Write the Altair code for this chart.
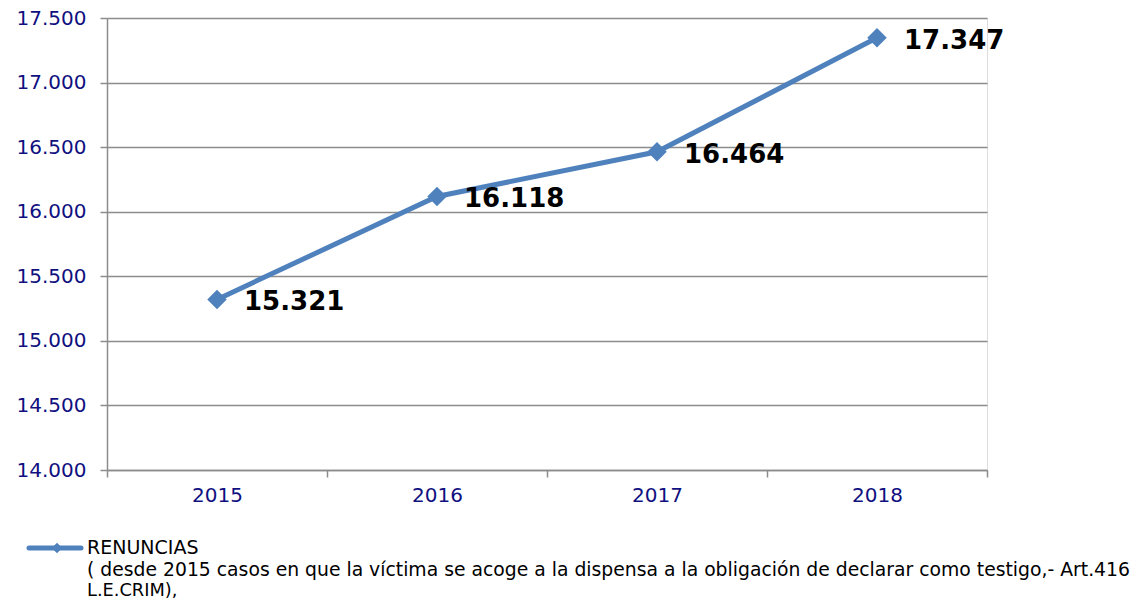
import altair as alt
import pandas as pd

years = ["2015", "2016", "2017", "2018"]
values = [15321, 16118, 16464, 17347]
value_labels = ["15.321", "16.118", "16.464", "17.347"]
y_ticks = [14000, 14500, 15000, 15500, 16000, 16500, 17000, 17500]
legend_title = "RENUNCIAS"
legend_line2 = "( desde 2015 casos en que la víctima se acoge a la dispensa  a la obligación de declarar como testigo,- Art.416"
legend_line3 = "L.E.CRIM),"

df = pd.DataFrame({"year": years, "value": values, "label": value_labels})

BLUE = "#4F81BD"
NAVY = "#10107F"
GRID = "#8C8C8C"
FONT = "DejaVu Sans"

x = alt.X("year:O", title=None,
          scale=alt.Scale(type="band", paddingInner=0, paddingOuter=0),
          axis=alt.Axis(labelAngle=0, tickBand="extent", labelFont=FONT, labelFontSize=20,
                        labelColor=NAVY, labelPadding=8, tickSize=7, tickColor=GRID,
                        domainColor=GRID, domainWidth=1.5, tickWidth=1.5, grid=False))
y = alt.Y("value:Q", title=None,
          scale=alt.Scale(domain=[14000, 17500], nice=False, zero=False),
          axis=alt.Axis(values=y_ticks, labelExpr="format(datum.value/1000, '.3f')",
                        labelFont=FONT, labelFontSize=20, labelColor=NAVY, labelPadding=14,
                        tickSize=7, tickColor=GRID, tickWidth=1.5, domainColor=GRID,
                        domainWidth=1.5, gridColor=GRID, gridWidth=1.5))

base = alt.Chart(df)
line = base.mark_line(color=BLUE, strokeWidth=5).encode(x=x, y=y)
points = base.mark_point(shape="diamond", filled=True, opacity=1, color=BLUE, size=380).encode(x=x, y=y)
labels = base.mark_text(align="left", baseline="middle", dx=27, dy=3, font=FONT,
                        fontSize=26, fontWeight="bold", color="black").encode(x=x, y=y, text="label:N")

leg = alt.Chart(pd.DataFrame({"t": [legend_title]}))
leg_line = leg.mark_rule(color=BLUE, strokeWidth=5, strokeCap="round").encode(
    x=alt.value(-78), x2=alt.value(-26), y=alt.value(530))
leg_pt = leg.mark_point(shape="diamond", filled=True, opacity=1, color=BLUE, size=110).encode(
    x=alt.value(-50), y=alt.value(530))
leg_t1 = leg.mark_text(align="left", baseline="middle", font=FONT, fontSize=19, color="black").encode(
    x=alt.value(-20), y=alt.value(530), text=alt.value(legend_title))
leg_t2 = leg.mark_text(align="left", baseline="middle", font=FONT, fontSize=18.8, color="black").encode(
    x=alt.value(-20), y=alt.value(552), text=alt.value(legend_line2))
leg_t3 = leg.mark_text(align="left", baseline="middle", font=FONT, fontSize=17.8, color="black").encode(
    x=alt.value(-20), y=alt.value(573), text=alt.value(legend_line3))

chart = alt.layer(line, points, labels, leg_line, leg_pt, leg_t1, leg_t2, leg_t3).properties(
    width=880, height=452,
    autosize=alt.AutoSizeParams(type="none"),
    padding={"left": 99, "top": 10, "right": 147, "bottom": 129},
).configure_view(stroke=None).configure(background="white")

chart.save("out.html", embed_options={"renderer": "svg", "actions": False})
